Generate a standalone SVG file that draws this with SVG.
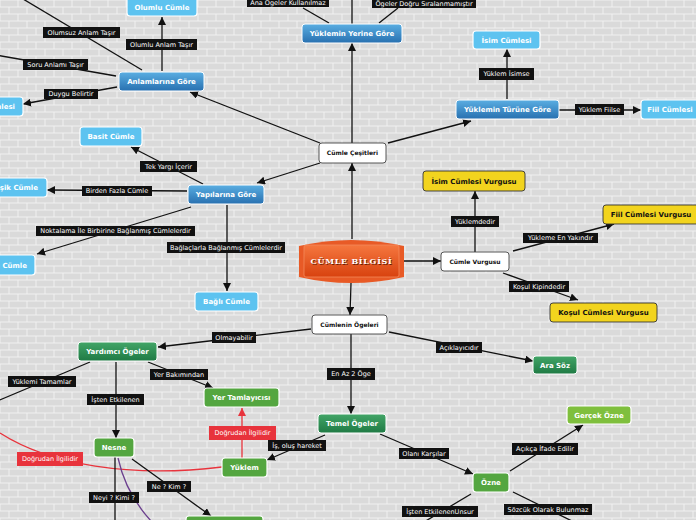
<svg xmlns="http://www.w3.org/2000/svg" width="696" height="520" viewBox="0 0 696 520">
<defs>
<pattern id="brick" width="36" height="14" patternUnits="userSpaceOnUse">
<rect width="36" height="14" fill="#f1f1f1"/>
<rect x="0.5" y="0.5" width="17" height="6" fill="#dadada"/>
<rect x="18.5" y="0.5" width="17" height="6" fill="#dadada"/>
<rect x="-8.5" y="7.5" width="17" height="6" fill="#dadada"/>
<rect x="9.5" y="7.5" width="17" height="6" fill="#dadada"/>
<rect x="27.5" y="7.5" width="17" height="6" fill="#dadada"/>
</pattern>
<linearGradient id="gBlue" x1="0" y1="0" x2="0" y2="1"><stop offset="0" stop-color="#5aaee2"/><stop offset="1" stop-color="#2870b0"/></linearGradient>
<linearGradient id="gGreen" x1="0" y1="0" x2="0" y2="1"><stop offset="0" stop-color="#42a567"/><stop offset="1" stop-color="#1f7a44"/></linearGradient>
<linearGradient id="gOr" x1="0" y1="0" x2="0" y2="1"><stop offset="0" stop-color="#f5773f"/><stop offset="1" stop-color="#d8420f"/></linearGradient>
<marker id="ah" markerUnits="userSpaceOnUse" markerWidth="9" markerHeight="8" refX="8" refY="4" orient="auto"><path d="M0,0 L8,4 L0,8 z" fill="#111"/></marker>
<marker id="ahr" markerUnits="userSpaceOnUse" markerWidth="9" markerHeight="8" refX="8" refY="4" orient="auto"><path d="M0,0 L8,4 L0,8 z" fill="#e8333c"/></marker>
<style>
.c{stroke:#111;stroke-width:1.3;fill:none}
.a{marker-end:url(#ah)}
.r{stroke:#e8333c;stroke-width:1.3;fill:none}
.db{fill:url(#gBlue);stroke:#fff;stroke-width:1}
.lb{fill:#5dc3f0;stroke:#fff;stroke-width:1.2}
.dg{fill:url(#gGreen);stroke:#fff;stroke-width:1}
.mg{fill:#54a640;stroke:#fff;stroke-width:1.2}
.lg{fill:#7fbf3d;stroke:#fff;stroke-width:1.2}
.yl{fill:#f2d41e;stroke:#333;stroke-width:0.9}
.wh{fill:#fff;stroke:#444;stroke-width:0.9}
.nt{font-family:"DejaVu Sans",Verdana,sans-serif;font-weight:bold;font-size:7px;fill:#fff;text-anchor:middle}
.nd{font-family:"DejaVu Sans",Verdana,sans-serif;font-weight:bold;font-size:7px;fill:#111;text-anchor:middle}
.ns{font-family:"DejaVu Sans",Verdana,sans-serif;font-weight:bold;font-size:6px;fill:#111;text-anchor:middle}
.lbox{fill:#111}
.rbox{fill:#e8333c}
.lt{font-family:"DejaVu Sans",Verdana,sans-serif;font-size:6.5px;fill:#fff;text-anchor:middle}
.big{font-family:"DejaVu Serif",serif;font-weight:bold;font-size:8px;letter-spacing:0.7px;text-anchor:middle}
</style>
</defs>
<rect width="696" height="520" fill="url(#brick)"/>

<g id="connectors">
<path class="c a" d="M320,143 L190,92"/>
<path class="c a" d="M352,143 L352,43"/>
<path class="c a" d="M388,143 L471,121"/>
<path class="c a" d="M320,163 L257,183"/>
<path class="c a" d="M352,239 L352,163"/>
<path class="c a" d="M404,261 L441,261"/>
<path class="c a" d="M351,283 L350,315"/>
<path class="c a" d="M162,71 L162,17"/>
<path class="c" d="M142,70 L13,-7"/>
<path class="c" d="M116,76 L-10,54"/>
<path class="c a" d="M117,87 L23,104"/>
<path class="c" d="M329,23 L303,8"/>
<path class="c" d="M352,24 L352,-5"/>
<path class="c" d="M379,23 L398,8"/>
<path class="c a" d="M507,99 L507,49"/>
<path class="c a" d="M559,110 L641,110"/>
<path class="c a" d="M203,184 L131,147"/>
<path class="c a" d="M187,191 L47,190"/>
<path class="c a" d="M191,207 L37,254"/>
<path class="c a" d="M227,205 L227,291"/>
<path class="c a" d="M475,252 L475,191"/>
<path class="c a" d="M513,251 L614,224"/>
<path class="c a" d="M503,273 L578,300"/>
<path class="c a" d="M311,329 L158,347"/>
<path class="c a" d="M389,332 L533,361"/>
<path class="c a" d="M351,334 L351,414"/>
<path class="c a" d="M116,362 L116,438"/>
<path class="c a" d="M148,362 L213,388"/>
<path class="c" d="M90,362 L-5,402"/>
<path class="c a" d="M380,434 L473,474"/>
<path class="c a" d="M325,435 L267,460"/>
<path class="r" d="M242,459 L242,408" marker-end="url(#ahr)"/>
<path class="r" d="M0,433 C50,465 130,478 222,467"/>
<path class="c a" d="M510,471 L583,425"/>
<path class="c" d="M471,494 L424,522"/>
<path class="c" d="M513,492 L574,522"/>
<path class="c" d="M115,457 L115,522"/>
<path class="c a" d="M132,459 L211,516"/>
<path d="M118,458 C124,485 136,505 152,522" stroke="#6b3f8e" stroke-width="1.3" fill="none"/>

<g id="labels">
<rect class="lbox" x="43" y="27" width="77" height="11"/><text class="lt" x="81.5" y="34.8">Olumsuz Anlam Taşır</text>
<rect class="lbox" x="126" y="39" width="71" height="11"/><text class="lt" x="161.5" y="46.8">Olumlu Anlam Taşır</text>
<rect class="lbox" x="23" y="59" width="65" height="11"/><text class="lt" x="55.5" y="66.8">Soru Anlamı Taşır</text>
<rect class="lbox" x="44" y="89" width="54" height="10"/><text class="lt" x="71" y="96.3">Duygu Belirtir</text>
<rect class="lbox" x="247" y="-4" width="82" height="11"/><text class="lt" x="288" y="4.5">Ana Ögeler Kullanılmaz</text>
<rect class="lbox" x="372" y="-3" width="104" height="11"/><text class="lt" x="424" y="5.5">Ögeler Doğru Sıralanmamıştır</text>
<rect class="lbox" x="479" y="68" width="55" height="12"/><text class="lt" x="506.5" y="76.3">Yüklem İsimse</text>
<rect class="lbox" x="575" y="104" width="49" height="11"/><text class="lt" x="599.5" y="111.8">Yüklem Fiilse</text>
<rect class="lbox" x="140" y="161" width="57" height="11"/><text class="lt" x="168.5" y="168.8">Tek Yargı İçerir</text>
<rect class="lbox" x="82" y="186" width="70" height="10"/><text class="lt" x="117" y="193.3">Birden Fazla Cümle</text>
<rect class="lbox" x="36" y="226" width="159" height="10"/><text class="lt" x="115.5" y="233.3">Noktalama İle Birbirine Bağlanmış Cümlelerdir</text>
<rect class="lbox" x="167" y="242" width="118" height="11"/><text class="lt" x="226" y="249.8">Bağlaçlarla Bağlanmış Cümlelerdir</text>
<rect class="lbox" x="451" y="216" width="48" height="11"/><text class="lt" x="475" y="223.8">Yüklemdedir</text>
<rect class="lbox" x="523" y="233" width="75" height="10"/><text class="lt" x="560.5" y="240.3">Yükleme En Yakındır</text>
<rect class="lbox" x="509" y="281" width="60" height="11"/><text class="lt" x="539" y="288.8">Koşul Kipindedir</text>
<rect class="lbox" x="212" y="332" width="44" height="11"/><text class="lt" x="234" y="339.8">Olmayabilir</text>
<rect class="lbox" x="436" y="342" width="46" height="11"/><text class="lt" x="459" y="349.8">Açıklayıcıdır</text>
<rect class="lbox" x="327" y="368" width="48" height="12"/><text class="lt" x="351" y="376.3">En Az 2 Öge</text>
<rect class="lbox" x="8" y="376" width="68" height="11"/><text class="lt" x="42" y="383.8">Yüklemi Tamamlar</text>
<rect class="lbox" x="150" y="369" width="58" height="11"/><text class="lt" x="179" y="376.8">Yer Bakımından</text>
<rect class="lbox" x="87" y="394" width="57" height="11"/><text class="lt" x="115.5" y="401.8">İşten Etkilenen</text>
<rect class="rbox" x="209" y="426" width="67" height="14"/><text class="lt" x="242.5" y="435.3">Doğrudan İlgilidir</text>
<rect class="lbox" x="268" y="440" width="58" height="11"/><text class="lt" x="297" y="447.8">İş, oluş hareket</text>
<rect class="lbox" x="399" y="448" width="50" height="11"/><text class="lt" x="424" y="455.8">Olanı Karşılar</text>
<rect class="rbox" x="17" y="452" width="66" height="14"/><text class="lt" x="50" y="461.3">Doğrudan İlgilidir</text>
<rect class="lbox" x="512" y="443" width="66" height="12"/><text class="lt" x="545" y="451.3">Açıkça İfade Edilir</text>
<rect class="lbox" x="147" y="481" width="44" height="11"/><text class="lt" x="169" y="488.8">Ne ? Kim ?</text>
<rect class="lbox" x="89" y="492" width="50" height="11"/><text class="lt" x="114" y="499.8">Neyi ? Kimi ?</text>
<rect class="lbox" x="402" y="506" width="76" height="11"/><text class="lt" x="440" y="513.8">İşten EtkilenenUnsur</text>
<rect class="lbox" x="504" y="504" width="88" height="11"/><text class="lt" x="548" y="511.8">Sözcük Olarak Bulunmaz</text>
</g>
</g>

<g id="n-cumle-bilgisi">
<path d="M299,246 Q351,234 404,246 L404,277 Q351,289 299,277 Z" fill="#e85a26"/>
<rect x="304" y="245" width="95" height="32" rx="2" fill="url(#gOr)" stroke="#f48a5a" stroke-width="0.8"/>
<text class="big" x="352.3" y="264.6" fill="#6b1a00">CÜMLE BİLGİSİ</text>
<text class="big" x="351.5" y="264" fill="#ffffff">CÜMLE BİLGİSİ</text>
</g>
<g id="n-cumle-cesitleri"><rect class="wh" x="319" y="143" width="67" height="20" rx="3"/><text class="ns" x="352.5" y="155.2">Cümle Çeşitleri</text></g>
<g id="n-anlam"><rect class="db" x="119" y="72" width="85" height="19" rx="3"/><text class="nt" x="161.5" y="84">Anlamlarına Göre</text></g>
<g id="n-olumlu"><rect class="lb" x="127" y="-3" width="70" height="19" rx="3"/><text class="nt" x="162" y="9.5">Olumlu Cümle</text></g>
<g id="n-unlem"><rect class="lb" x="-40" y="97" width="63" height="19" rx="3"/><text class="nt" x="15" y="109" style="text-anchor:end">Ünlem Cümlesi</text></g>
<g id="n-yerine"><rect class="db" x="302" y="24" width="100" height="19" rx="3"/><text class="nt" x="352" y="36">Yüklemin Yerine Göre</text></g>
<g id="n-turune"><rect class="db" x="456" y="100" width="103" height="19" rx="3"/><text class="nt" x="507.5" y="112">Yüklemin Türüne Göre</text></g>
<g id="n-isim"><rect class="lb" x="473" y="31" width="67" height="18" rx="3"/><text class="nt" x="506.5" y="42.5">İsim Cümlesi</text></g>
<g id="n-fiil"><rect class="lb" x="641" y="100" width="62" height="19" rx="3"/><text class="nt" x="670" y="112">Fiil Cümlesi</text></g>
<g id="n-yapi"><rect class="db" x="188" y="185" width="76" height="19" rx="3"/><text class="nt" x="226" y="197">Yapılarına Göre</text></g>
<g id="n-basit"><rect class="lb" x="80" y="127" width="62" height="19" rx="3"/><text class="nt" x="111" y="139">Basit Cümle</text></g>
<g id="n-bilesik"><rect class="lb" x="-30" y="178" width="77" height="19" rx="3"/><text class="nt" x="38" y="190" style="text-anchor:end">Bileşik Cümle</text></g>
<g id="n-sirali"><rect class="lb" x="-40" y="255" width="75" height="20" rx="3"/><text class="nt" x="27" y="267.5" style="text-anchor:end">Sıralı Cümle</text></g>
<g id="n-bagli"><rect class="lb" x="195" y="292" width="63" height="19" rx="3"/><text class="nt" x="226.5" y="304">Bağlı Cümle</text></g>
<g id="n-vurgu"><rect class="wh" x="441" y="252" width="68" height="19" rx="3"/><text class="ns" x="475" y="263.8">Cümle Vurgusu</text></g>
<g id="n-isimv"><rect class="yl" x="423" y="171" width="102" height="20" rx="3"/><text class="nd" x="474" y="183.5">İsim Cümlesi Vurgusu</text></g>
<g id="n-fiilv"><rect class="yl" x="603" y="205" width="96" height="19" rx="3"/><text class="nd" x="651" y="217">Fiil Cümlesi Vurgusu</text></g>
<g id="n-kosulv"><rect class="yl" x="550" y="303" width="107" height="19" rx="3"/><text class="nd" x="603.5" y="315">Koşul Cümlesi Vurgusu</text></g>
<g id="n-ogeler"><rect class="wh" x="312" y="315" width="75" height="19" rx="3"/><text class="ns" x="349.5" y="326.8">Cümlenin Ögeleri</text></g>
<g id="n-yardimci"><rect class="dg" x="78" y="342" width="79" height="19" rx="3"/><text class="nt" x="117.5" y="354">Yardımcı Ögeler</text></g>
<g id="n-arasoz"><rect class="dg" x="533" y="356" width="44" height="18" rx="3"/><text class="nt" x="555" y="367.5">Ara Söz</text></g>
<g id="n-temel"><rect class="dg" x="318" y="414" width="68" height="19" rx="3"/><text class="nt" x="352" y="426">Temel Ögeler</text></g>
<g id="n-yertam"><rect class="mg" x="204" y="388" width="75" height="19" rx="3"/><text class="nt" x="241.5" y="400">Yer Tamlayıcısı</text></g>
<g id="n-nesne"><rect class="mg" x="94" y="438" width="40" height="19" rx="3"/><text class="nt" x="114" y="450">Nesne</text></g>
<g id="n-yuklem"><rect class="mg" x="222" y="458" width="45" height="19" rx="3"/><text class="nt" x="244.5" y="470">Yüklem</text></g>
<g id="n-ozne"><rect class="mg" x="473" y="473" width="36" height="19" rx="3"/><text class="nt" x="491" y="485">Özne</text></g>
<g id="n-gercek"><rect class="lg" x="567" y="406" width="64" height="18" rx="3"/><text class="nt" x="599" y="417.5">Gerçek Özne</text></g>
<g id="n-bottom"><rect class="mg" x="186" y="516" width="77" height="19" rx="3"/></g>
</svg>
